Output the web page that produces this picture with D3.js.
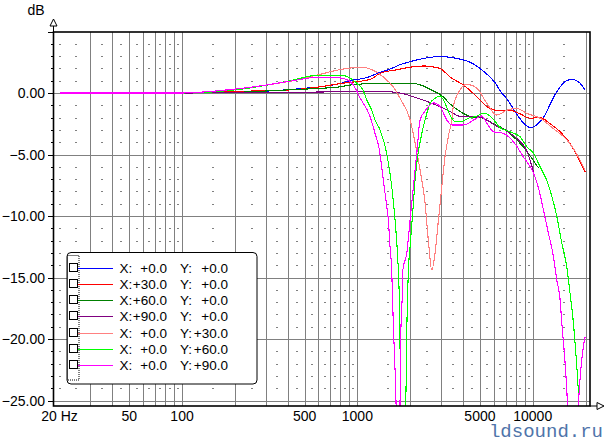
<!DOCTYPE html>
<html>
<head>
<meta charset="utf-8">
<script src="https://cdn.jsdelivr.net/npm/d3@7"></script>
<style>
  body { margin: 0; background: #fff; }
  svg text { font-family: Arial, "Liberation Sans", sans-serif; }
  svg text.mark { font-family: "Liberation Mono", "DejaVu Sans Mono", monospace; }
</style>
</head>
<body>
<svg id="chart" width="608" height="442"></svg>
<script>
// frequency response curves, [Hz, dB]
var x0y0 = [[20,0],[100,0],[180,0.05],[300,0.15],[500,0.38],[650,0.55],[800,0.78],[908,1.0],[1130,1.25],[1346,1.68],[1540,1.95],[1750,2.3],[2000,2.55],[2200,2.7],[2600,2.9],[2960,2.97],[3400,2.9],[4000,2.7],[4400,2.5],[5000,2.0],[5700,1.3],[6200,0.7],[6500,0.2],[7100,-0.45],[8100,-1.7],[8800,-2.4],[9700,-2.8],[10300,-2.7],[11000,-2.3],[11500,-2.0],[12500,-1.0],[13100,-0.4],[13700,0.1],[14650,0.65],[15600,1.0],[16700,1.1],[17800,1.0],[18600,0.8],[19900,0.25]];
var x30y0 = [[20,0],[100,0],[236,0.15],[413,0.25],[612,0.5],[828,0.8],[1180,1.1],[1346,1.6],[1700,1.9],[2000,2.1],[2400,2.2],[2600,2.15],[2960,2.0],[3378,1.3],[4022,0.65],[4800,-0.3],[5470,-1.1],[6240,-1.4],[7440,-1.4],[8470,-1.7],[9660,-2.05],[11000,-2.0],[12570,-2.5],[14330,-3.15],[16330,-4.1],[18220,-5.3],[19900,-6.4]];
var x60y0 = [[20,0],[100,0],[200,0.05],[394,0.25],[612,0.38],[796,0.5],[908,0.65],[1346,0.79],[2000,0.8],[2350,0.6],[2600,0.3],[3080,-0.3],[3380,-0.9],[3850,-1.5],[4390,-1.9],[5230,-2.05],[5970,-2.5],[6800,-2.9],[7760,-3.55],[8850,-4.4],[10100,-5.5],[10800,-6.1]];
var x90y0 = [[20,0],[100,0],[300,0.03],[800,0.1],[1400,0.12],[1750,0.0],[2180,-0.4],[2840,-1.0],[3380,-1.5],[3850,-1.9],[4400,-1.9],[5000,-1.95],[5470,-2.2],[6240,-2.7],[7120,-3.1],[8110,-3.7],[9250,-4.7],[10100,-6.4]];
var x0y30 = [[20,0],[100,0],[180,0.25],[304,0.65],[430,1.0],[586,1.45],[796,1.9],[1036,2.1],[1234,1.85],[1406,1.3],[1600,0.5],[1770,-0.55],[2000,-2.2],[2130,-4.0],[2280,-6.3],[2430,-8.9],[2540,-12.0],[2656,-14.4],[2774,-13.0],[2900,-10.3],[3030,-7.6],[3160,-5.2],[3300,-3.55],[3450,-2.2],[3526,-1.1],[3852,0.25],[4204,0.7],[4798,0.4],[5470,-0.84],[6238,-1.8],[7116,-1.4],[8110,-1.25],[9250,-1.65],[11016,-2.05],[13124,-2.9],[15632,-3.8],[18622,-5.45],[19900,-6.3]];
var x0y60 = [[20,0],[100,0],[214,0.3],[430,1.05],[558,1.4],[796,1.45],[870,1.35],[991,0.8],[1077,0.25],[1130,-0.55],[1208,-1.4],[1262,-2.2],[1346,-3.0],[1470,-4.9],[1570,-7.6],[1640,-10.3],[1700,-13.5],[1725,-15.5],[1742,-18],[1752,-21],[1760,-25.5],[1800,-32],[1870,-32],[1888,-25.5],[1914,-19.3],[1954,-14.4],[1998,-12.5],[2086,-9.0],[2132,-7.1],[2220,-4.9],[2330,-3.3],[2432,-2.2],[2600,-0.84],[2774,-0.43],[2962,-0.24],[3164,-0.84],[3378,-1.8],[3600,-2.3],[3930,-2.3],[4300,-2.05],[4800,-1.87],[5230,-1.65],[5710,-1.87],[6090,-2.3],[6520,-2.83],[7116,-3.06],[7760,-3.27],[8470,-3.55],[9250,-4.37],[10100,-4.9],[11016,-6.0],[12000,-7.07],[12854,-8.4],[13712,-10],[14650,-12.2],[15632,-14.1],[16332,-16.3],[17062,-18.7],[17670,-21.4],[18224,-24.4],[18600,-28]];
var x0y90 = [[20,0],[100,0],[180,0.25],[278,0.57],[430,1.0],[586,1.27],[762,1.25],[870,1.1],[948,0.65],[1036,-0.4],[1180,-1.9],[1262,-3.3],[1334,-4.6],[1406,-7.1],[1470,-9.2],[1502,-10.3],[1535,-12.5],[1570,-14.4],[1604,-19],[1640,-22.5],[1664,-25.5],[1700,-32],[1730,-32],[1750,-25.5],[1766,-20],[1806,-16],[1816,-14.4],[1914,-13],[1998,-10.3],[2086,-7.6],[2182,-4.9],[2278,-2.2],[2450,-1.4],[2710,-0.8],[2962,-1.1],[3236,-2.2],[3452,-2.6],[4022,-2.6],[4798,-2.05],[5120,-1.87],[5470,-2.46],[5970,-3.15],[6808,-3.28],[7762,-3.96],[8852,-5.2],[10094,-6.5],[10778,-7.7],[11508,-9.5],[12288,-11.4],[13124,-13.3],[13712,-15.2],[14326,-16.8],[14650,-18.7],[15100,-20.9],[15490,-23.1],[15770,-25.2],[16300,-32],[17800,-32],[18224,-25.4],[19900,-19.8]];

var seriesData = [x0y0, x30y0, x60y0, x90y0, x0y30, x0y60, x0y90];
var seriesColors = ["#0000ff", "#ff0000", "#008000", "#800080", "#ff8080", "#00ff00", "#ff00ff"];
var legendX = ["+0.0", "+30.0", "+60.0", "+90.0", "+0.0", "+0.0", "+0.0"];
var legendY = ["+0.0", "+0.0", "+0.0", "+0.0", "+30.0", "+60.0", "+90.0"];

var yTicks = [0, -5, -10, -15, -20, -25];
var xLabelFreqs = [20, 50, 100, 500, 1000, 5000, 10000];
var xLabelText = ["20 Hz", "50", "100", "500", "1000", "5000", "10000"];

var svg = d3.select("#chart");
var frame = {left: 53.5, right: 590, top: 32, bottom: 406};

var x = d3.scaleLog().domain([20, 20000]).range([59.5, 585.5]);
var y = d3.scaleLinear().domain([-25, 5]).range([400.5, 31.5]);
var px = v => Math.round(v) + 0.5;

// grid frequencies: 30..90, 100..900, 1000..9000, 10000, 20000
var gridFreqs = [];
[10, 100, 1000].forEach(dec => {
    for (var k = (dec == 10 ? 3 : 1); k < 10; k++) gridFreqs.push(k * dec);
});
gridFreqs.push(10000, 20000);

// dash columns: 20 Hz and linear mid points between grid lines
var dashFreqs = [20];
var allF = [20].concat(gridFreqs);
for (var i = 0; i < allF.length - 1; i++) dashFreqs.push((allF[i] + allF[i + 1]) / 2);

var dashDb = d3.range(-25, 5).filter(d => d % 5 != 0);

var grid = svg.append("g").attr("shape-rendering", "crispEdges");

grid.selectAll("line.v")
    .data(gridFreqs)
    .join("line")
    .attr("class", "v")
    .attr("x1", d => px(x(d))).attr("x2", d => px(x(d)))
    .attr("y1", frame.top).attr("y2", frame.bottom)
    .attr("stroke", "#808080");

grid.selectAll("line.h")
    .data(yTicks)
    .join("line")
    .attr("class", "h")
    .attr("x1", frame.left).attr("x2", frame.right)
    .attr("y1", d => px(y(d))).attr("y2", d => px(y(d)))
    .attr("stroke", "#808080");

var dots = [];
dashFreqs.forEach(f => dashDb.forEach(v => dots.push([f, v])));
grid.selectAll("rect.dash")
    .data(dots)
    .join("rect")
    .attr("class", "dash")
    .attr("x", d => Math.round(x(d[0])) - 1)
    .attr("y", d => Math.round(y(d[1])))
    .attr("width", 2).attr("height", 1)
    .attr("fill", "#808080");

// curves
svg.append("clipPath").attr("id", "plotClip")
    .append("rect")
    .attr("x", frame.left).attr("y", frame.top)
    .attr("width", frame.right - frame.left).attr("height", frame.bottom - frame.top);

var line = d3.line()
    .x(d => x(d[0]))
    .y(d => y(d[1]))
    .curve(d3.curveMonotoneX);

svg.append("g")
    .attr("clip-path", "url(#plotClip)")
    .selectAll("path")
    .data(seriesData)
    .join("path")
    .attr("d", line)
    .attr("fill", "none")
    .attr("stroke", (d, i) => seriesColors[i])
    .attr("stroke-width", 1.1)
    .attr("shape-rendering", "crispEdges");

// frame and axes
var ax = svg.append("g").attr("stroke", "#000").attr("fill", "none");
ax.append("rect")
    .attr("x", frame.left).attr("y", frame.top)
    .attr("width", frame.right - frame.left).attr("height", frame.bottom - frame.top)
    .attr("stroke-width", 1.6);
ax.append("line").attr("x1", frame.left).attr("x2", frame.left).attr("y1", 26).attr("y2", frame.top);
ax.append("path").attr("d", "M53.5,19 L50,26 L57,26 Z").attr("fill", "#fff");
ax.append("line").attr("x1", frame.right).attr("x2", 597).attr("y1", frame.bottom).attr("y2", frame.bottom);
ax.append("path").attr("d", "M604,406 L597,402.5 L597,409.5 Z").attr("fill", "#fff");

var yTickAll = d3.range(-25, 6);
ax.selectAll("line.yt")
    .data(yTickAll)
    .join("line")
    .attr("class", "yt")
    .attr("x1", d => d % 5 == 0 ? 48 : 50.5).attr("x2", frame.left)
    .attr("y1", d => px(y(d))).attr("y2", d => px(y(d)))
    .attr("shape-rendering", "crispEdges");

svg.selectAll("text.yl")
    .data(yTicks)
    .join("text")
    .attr("class", "yl")
    .attr("x", 45)
    .attr("y", d => y(d) + 5)
    .attr("text-anchor", "end")
    .attr("font-size", 14)
    .attr("fill", "#000")
    .text(d => d3.format(".2f")(d));

svg.selectAll("text.xl")
    .data(xLabelFreqs)
    .join("text")
    .attr("class", "xl")
    .attr("x", d => x(d))
    .attr("y", 421)
    .attr("text-anchor", "middle")
    .attr("font-size", 14)
    .attr("fill", "#000")
    .text((d, i) => xLabelText[i]);

svg.append("text")
    .attr("x", 36).attr("y", 15)
    .attr("text-anchor", "middle")
    .attr("font-size", 14)
    .attr("fill", "#000")
    .text("dB");

// legend
var leg = svg.append("g");
leg.append("rect")
    .attr("x", 67).attr("y", 252.5)
    .attr("width", 190).attr("height", 131.5)
    .attr("rx", 4)
    .attr("fill", "#fff").attr("stroke", "#000");
leg.append("rect")
    .attr("x", 67.5).attr("y", 255.5)
    .attr("width", 11.5).attr("height", 124.5)
    .attr("fill", "none").attr("stroke", "#000")
    .attr("stroke-dasharray", "1,1");

var rowY = i => 267.5 + i * 16.3;
var rows = leg.selectAll("g.row")
    .data(seriesColors)
    .join("g")
    .attr("class", "row");
rows.append("rect")
    .attr("x", 69.5).attr("y", (d, i) => Math.round(rowY(i)) - 4.5)
    .attr("width", 8).attr("height", 8)
    .attr("fill", "#fff").attr("stroke", "#000");
rows.append("line")
    .attr("x1", 78).attr("x2", 113)
    .attr("y1", (d, i) => Math.round(rowY(i)) + 0.5).attr("y2", (d, i) => Math.round(rowY(i)) + 0.5)
    .attr("stroke", d => d)
    .attr("shape-rendering", "crispEdges");
rows.append("text")
    .attr("x", 119.5).attr("y", (d, i) => rowY(i) + 5)
    .attr("font-size", 13.5).attr("fill", "#000")
    .text("X:");
rows.append("text")
    .attr("x", 167).attr("y", (d, i) => rowY(i) + 5)
    .attr("text-anchor", "end")
    .attr("font-size", 13.5).attr("fill", "#000")
    .text((d, i) => legendX[i]);
rows.append("text")
    .attr("x", 180).attr("y", (d, i) => rowY(i) + 5)
    .attr("font-size", 13.5).attr("fill", "#000")
    .text("Y:");
rows.append("text")
    .attr("x", 228).attr("y", (d, i) => rowY(i) + 5)
    .attr("text-anchor", "end")
    .attr("font-size", 13.5).attr("fill", "#000")
    .text((d, i) => legendY[i]);

// watermark
svg.append("text")
    .attr("class", "mark")
    .attr("x", 603).attr("y", 436.5)
    .attr("text-anchor", "end")
    .attr("font-size", 19)
    .attr("fill", "#4f74aa")
    .text("ldsound.ru");
</script>
</body>
</html>
